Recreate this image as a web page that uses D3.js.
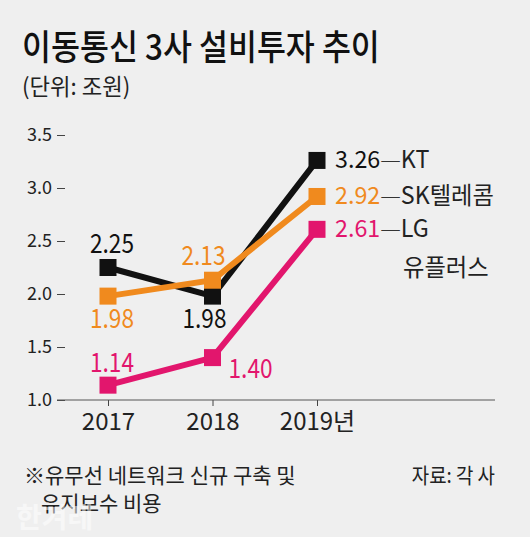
<!DOCTYPE html>
<html><head><meta charset="utf-8">
<script src="https://cdn.jsdelivr.net/npm/d3@7"></script>
<style>html,body{margin:0;padding:0;background:#efefef}svg{display:block}</style>
</head><body>
<script>
// ---- data ----
const years = ["2017", "2018", "2019"];
const yearLabels = ["2017", "2018", "2019년"];
const ktValues = [2.25, 1.98, 3.26];
const skValues = [1.98, 2.13, 2.92];
const lgValues = [1.14, 1.40, 2.61];
const yTicks = [1.0, 1.5, 2.0, 2.5, 3.0, 3.5];
const seriesNames = ["KT", "SK텔레콤", "LG 유플러스"];
const title = "이동통신 3사 설비투자 추이";
const unitText = "(단위: 조원)";
const noteLines = ["※유무선 네트워크 신규 구축 및", "유지보수 비용"];
const sourceText = "자료: 각 사";

// ---- setup ----
const W = 530, H = 537;
const FONT = "'Noto Sans CJK KR','Noto Sans',sans-serif";
const svg = d3.select("body").append("svg").attr("width", W).attr("height", H);
svg.append("rect").attr("width", W).attr("height", H).attr("fill", "#efefef");

function txt(parent, x, y, str, o) {
  o = o || {};
  const t = parent.append("text")
    .attr("transform", `translate(${x},${y}) scale(${o.sx || 1},1)`)
    .attr("font-family", FONT)
    .attr("font-size", o.size || 20)
    .attr("font-weight", o.weight || 400)
    .attr("fill", o.color || "#111")
    .attr("text-anchor", o.anchor || "start")
    .attr("opacity", o.opacity == null ? 1 : o.opacity);
  if (str != null) t.text(str);
  return t;
}

// title
txt(svg, 22, 60, title, {size: 35, weight: 500, sx: 0.9, color: "#111"});
txt(svg, 22, 95, unitText, {size: 23, sx: 0.97, color: "#222"});

// scales
const x = d3.scalePoint().domain(years).range([108, 317]);
const y = d3.scaleLinear().domain([1.0, 3.5]).range([400, 135]);

// y axis
const yAxis = svg.append("g").attr("transform", "translate(65,0)")
  .call(d3.axisLeft(y).tickValues(yTicks).tickFormat(d3.format(".1f")).tickSize(8).tickPadding(5));
yAxis.select(".domain").remove();
yAxis.selectAll(".tick line").attr("stroke", "#444");
yAxis.selectAll(".tick text").attr("font-family", FONT).attr("font-size", 18).attr("fill", "#222");

// x axis
const xAxis = svg.append("g").attr("transform", "translate(0,400)")
  .call(d3.axisBottom(x).tickFormat((d, i) => yearLabels[i]).tickSize(6).tickPadding(7));
xAxis.select(".domain").remove();
xAxis.selectAll(".tick line").attr("stroke", "#444");
xAxis.selectAll(".tick text").attr("font-family", FONT).attr("font-size", 24).attr("fill", "#222");
svg.append("line").attr("x1", 57).attr("x2", 495).attr("y1", y(1.0)).attr("y2", y(1.0))
  .attr("stroke", "#555").attr("stroke-width", 1);

// series
const series = [
  {name: seriesNames[0], values: ktValues, color: "#111111"},
  {name: seriesNames[1], values: skValues, color: "#f08a1e"},
  {name: seriesNames[2], values: lgValues, color: "#e2166d"}
];
// label offsets relative to point (style, not data)
const labelOffsets = [
  [[4, -15, "middle"], [-8, 32, "middle"]],
  [[4, 32, "middle"], [-9, -15, "middle"]],
  [[4, -13, "middle"], [16, 20, "start"]]
];

const line = d3.line().x((d, i) => x(years[i])).y(d => y(d));
const MS = 17;
const drawOrder = [2, 0, 1];
drawOrder.forEach(si => {
  const s = series[si];
  const g = svg.append("g");
  g.append("path").datum(s.values).attr("d", line).attr("fill", "none")
    .attr("stroke", s.color).attr("stroke-width", 6).attr("stroke-linejoin", "miter");
  g.selectAll("rect").data(s.values).join("rect")
    .attr("x", (d, i) => x(years[i]) - MS / 2).attr("y", d => y(d) - MS / 2)
    .attr("width", MS).attr("height", MS).attr("fill", s.color);
});

// point labels (first two years)
series.forEach((s, si) => {
  s.values.slice(0, 2).forEach((v, i) => {
    const [dx, dy, anchor] = labelOffsets[si][i];
    txt(svg, x(years[i]) + dx, y(v) + dy, v.toFixed(2),
      {size: 27, sx: 0.84, color: s.color, anchor: anchor});
  });
});

// end labels
series.forEach((s, si) => {
  const v = s.values[2];
  const t = txt(svg, x(years[2]) + 18, y(v) + 8, null, {size: 24, sx: 0.97});
  t.append("tspan").attr("fill", s.color).text(v.toFixed(2));
  t.append("tspan").attr("fill", "#333").attr("font-weight", 300).text("—");
  const nm = s.name.split(" ");
  t.append("tspan").attr("fill", "#222").text(nm[0]);
  if (nm[1]) {
    txt(svg, 403, y(v) + 47, nm[1], {size: 24, sx: 0.97, color: "#222"});
  }
});

// footer
txt(svg, 24, 483, noteLines[0], {size: 21, sx: 1.0, color: "#222"});
txt(svg, 41, 511, noteLines[1], {size: 21, sx: 1.0, color: "#222"});
txt(svg, 495, 483, sourceText, {size: 21, sx: 0.9, color: "#222", anchor: "end"});
// faint watermark
txt(svg, 16, 528, "한겨레", {size: 28, weight: 700, color: "#ffffff", opacity: 0.5});
</script>
</body></html>
